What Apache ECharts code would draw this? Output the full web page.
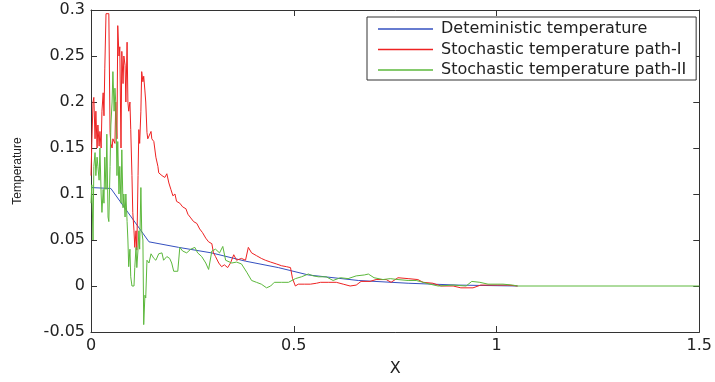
<!DOCTYPE html>
<html>
<head>
<meta charset="utf-8">
<script src="https://cdn.jsdelivr.net/npm/echarts@6/dist/echarts.min.js"></script>
<style>
html,body{margin:0;padding:0;background:#fff;}
#chart{width:715px;height:382px;}
</style>
</head>
<body>
<div id="chart"></div>
<script>
// ---- data ----
var seriesNames = ["Deteministic temperature", "Stochastic temperature path-I", "Stochastic temperature path-II"];
var xTicks = [0, 0.5, 1, 1.5];
var yTicks = [-0.05, 0, 0.05, 0.1, 0.15, 0.2, 0.25, 0.3];

var detX = [0, 0.049, 0.143, 0.216, 0.297, 0.381, 0.462, 0.536, 0.659, 0.782, 0.905, 1.052];
var detY = [0.107, 0.106, 0.048, 0.042, 0.036, 0.027, 0.020, 0.012, 0.006, 0.003, 0.001, 0];

var path1X = [0, .002, .005, .007, .010, .012, .015, .017, .020, .022, .025, .027, .030, .032, .034, .037, .044, .047, .049, .052, .054, .059, .061, .064, .066, .069, .071, .074, .076, .079, .081, .084, .086, .089, .091, .093, .096, .098, .101, .103, .106, .108, .111, .113, .116, .118, .120, .123, .125, .128, .130, .133, .135, .138, .140, .143, .148, .150, .155, .160, .165, .167, .175, .182, .187, .192, .197, .202, .207, .211, .219, .226, .234, .239, .246, .253, .261, .268, .275, .283, .290, .298, .302, .307, .315, .322, .329, .337, .344, .352, .359, .371, .381, .388, .396, .408, .420, .430, .443, .457, .470, .482, .492, .497, .504, .511, .526, .541, .556, .566, .585, .605, .622, .639, .654, .666, .688, .703, .728, .740, .757, .782, .806, .819, .843, .863, .893, .912, .942, .961, 1.003, 1.028, 1.052];
var path1Y = [0.12, 0.155, 0.20, 0.205, 0.16, 0.19, 0.15, 0.175, 0.152, 0.168, 0.15, 0.19, 0.21, 0.185, 0.236, 0.296, 0.296, 0.167, 0.155, 0.15, 0.16, 0.155, 0.2, 0.16, 0.283, 0.25, 0.26, 0.15, 0.255, 0.22, 0.25, 0.24, 0.2, 0.265, 0.2, 0.19, 0.2, 0.17, 0.12, 0.08, 0.06, 0.042, 0.06, 0.039, 0.12, 0.17, 0.155, 0.19, 0.233, 0.222, 0.228, 0.212, 0.2, 0.167, 0.16, 0.158, 0.168, 0.16, 0.157, 0.14, 0.13, 0.123, 0.12, 0.118, 0.122, 0.112, 0.105, 0.098, 0.1, 0.092, 0.09, 0.086, 0.084, 0.078, 0.074, 0.07, 0.068, 0.062, 0.058, 0.052, 0.048, 0.046, 0.036, 0.032, 0.025, 0.021, 0.023, 0.02, 0.025, 0.034, 0.028, 0.03, 0.028, 0.042, 0.036, 0.033, 0.03, 0.028, 0.026, 0.024, 0.022, 0.021, 0.02, 0.008, 0.0, 0.002, 0.002, 0.002, 0.003, 0.004, 0.004, 0.004, 0.002, 0.0, 0.001, 0.005, 0.005, 0.007, 0.007, 0.004, 0.009, 0.008, 0.007, 0.004, 0.003, 0.0, 0.0, -0.002, -0.002, 0.001, 0.001, 0.001, 0.0];

var path2X = [0, .002, .005, .007, .010, .012, .015, .017, .020, .022, .025, .027, .030, .032, .034, .037, .039, .042, .044, .047, .049, .052, .054, .057, .059, .061, .064, .066, .069, .071, .074, .076, .079, .081, .084, .086, .089, .091, .093, .096, .098, .101, .106, .108, .111, .113, .116, .118, .120, .123, .125, .128, .130, .133, .135, .138, .143, .148, .155, .160, .167, .175, .179, .187, .194, .199, .204, .214, .219, .226, .236, .246, .256, .263, .273, .283, .290, .298, .307, .317, .325, .332, .347, .359, .371, .384, .396, .408, .420, .433, .443, .452, .470, .487, .504, .519, .536, .548, .561, .580, .597, .615, .634, .654, .674, .684, .698, .720, .738, .757, .782, .802, .819, .836, .856, .893, .925, .939, .959, .979, 1.016, 1.040, 1.052, 1.5];
var path2Y = [0.09, 0.11, 0.05, 0.13, 0.145, 0.12, 0.14, 0.13, 0.115, 0.15, 0.1, 0.08, 0.105, 0.09, 0.14, 0.105, 0.165, 0.075, 0.07, 0.13, 0.175, 0.2, 0.233, 0.19, 0.215, 0.2, 0.12, 0.157, 0.1, 0.13, 0.09, 0.148, 0.085, 0.1, 0.075, 0.1, 0.07, 0.05, 0.021, 0.04, 0.01, 0.0, 0.0, 0.02, 0.042, 0.02, 0.04, 0.06, 0.04, 0.107, 0.06, 0.05, -0.042, -0.01, -0.013, 0.028, 0.025, 0.035, 0.03, 0.028, 0.035, 0.036, 0.028, 0.032, 0.03, 0.025, 0.016, 0.016, 0.042, 0.038, 0.036, 0.04, 0.042, 0.036, 0.032, 0.025, 0.018, 0.038, 0.04, 0.036, 0.043, 0.028, 0.025, 0.026, 0.024, 0.015, 0.006, 0.004, 0.002, -0.002, 0.0, 0.004, 0.004, 0.004, 0.008, 0.01, 0.013, 0.011, 0.01, 0.01, 0.006, 0.009, 0.008, 0.011, 0.012, 0.013, 0.009, 0.007, 0.008, 0.007, 0.006, 0.006, 0.004, 0.002, 0.0, 0.001, 0.0, 0.005, 0.004, 0.002, 0.002, 0.001, 0.0, 0.0];

function zip(xs, ys) { return xs.map(function (x, i) { return [x, ys[i]]; }); }

var colors = ['#3550c0', '#ee2222', '#5cb83c'];
var font = 'DejaVu Sans';
var axisColor = '#333';

var chart = echarts.init(document.getElementById('chart'), null, {renderer: 'canvas'});
var fmt = function (v) { return String(parseFloat(v.toFixed(2))); };

function boxAxis(extra) {
  return Object.assign({
    type: 'value',
    axisLine: {show: true, onZero: false, lineStyle: {color: axisColor, width: 1}},
    axisTick: {show: true, inside: true, length: 6, lineStyle: {color: axisColor}},
    splitLine: {show: false}
  }, extra);
}

var option = {
  animation: false,
  backgroundColor: '#fff',
  grid: {left: 91, right: 13, top: 10, bottom: 39, containLabel: false},
  legend: {
    orient: 'vertical',
    left: 367,
    top: 17,
    data: seriesNames,
    icon: 'rect',
    itemWidth: 55,
    itemHeight: 1.5,
    itemGap: 4.5,
    borderColor: '#333',
    borderWidth: 1,
    borderRadius: 0,
    padding: [4, 10, 2, 11],
    backgroundColor: '#fff',
    textStyle: {fontFamily: font, fontSize: 16, color: '#222', lineHeight: 15, padding: [0, 0, 0, 3]}
  },
  xAxis: [
    boxAxis({
      position: 'bottom', min: xTicks[0], max: xTicks[xTicks.length - 1], interval: 0.5,
      name: 'X', nameLocation: 'middle', nameGap: 29,
      nameTextStyle: {fontFamily: font, fontSize: 16, color: '#222'},
      axisLabel: {fontFamily: font, fontSize: 16, color: '#222', margin: 6, formatter: fmt}
    }),
    boxAxis({
      position: 'top', min: xTicks[0], max: xTicks[xTicks.length - 1], interval: 0.5,
      axisLabel: {show: false}
    })
  ],
  yAxis: [
    boxAxis({
      position: 'left', min: yTicks[0], max: yTicks[yTicks.length - 1], interval: 0.05,
      name: 'Temperature', nameLocation: 'middle', nameGap: 67, nameRotate: 90,
      nameTextStyle: {fontFamily: 'Liberation Sans', fontSize: 12, color: '#222'},
      axisLabel: {fontFamily: font, fontSize: 16, color: '#222', margin: 6, formatter: fmt}
    }),
    boxAxis({
      position: 'right', min: yTicks[0], max: yTicks[yTicks.length - 1], interval: 0.05,
      axisLabel: {show: false}
    })
  ],
  series: [
    {name: seriesNames[0], type: 'line', data: zip(detX, detY), showSymbol: false, symbol: 'none',
     lineStyle: {color: colors[0], width: 1}, itemStyle: {color: colors[0]}, z: 2},
    {name: seriesNames[1], type: 'line', data: zip(path1X, path1Y), showSymbol: false, symbol: 'none',
     lineStyle: {color: colors[1], width: 1}, itemStyle: {color: colors[1]}, z: 3},
    {name: seriesNames[2], type: 'line', data: zip(path2X, path2Y), showSymbol: false, symbol: 'none',
     lineStyle: {color: colors[2], width: 1}, itemStyle: {color: colors[2]}, z: 4}
  ]
};
chart.setOption(option);
</script>
</body>
</html>
